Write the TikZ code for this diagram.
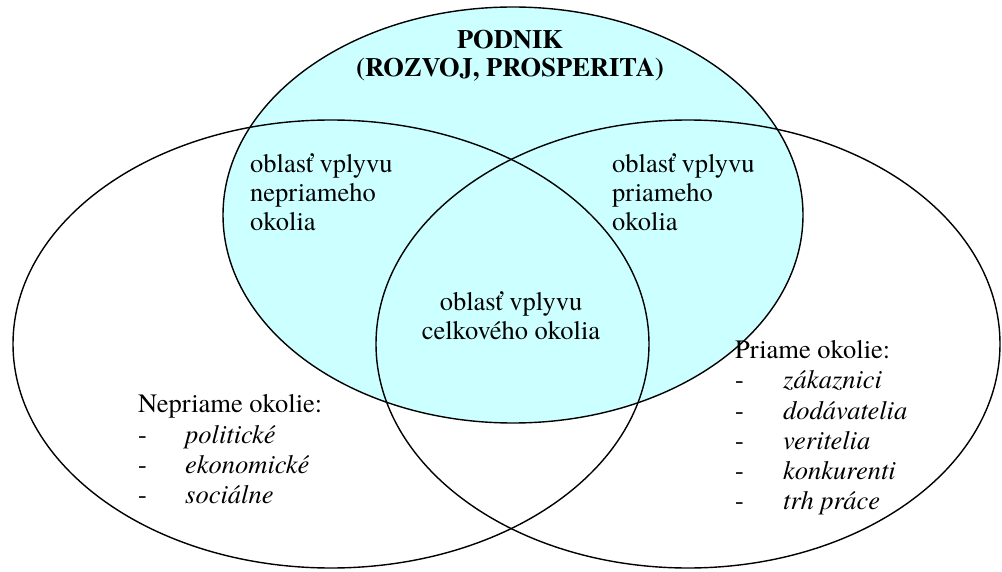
\documentclass[tikz,border=0pt]{standalone}
\usepackage{fontspec}
\setmainfont{texgyretermes}[Extension=.otf, UprightFont=*-regular, BoldFont=*-bold, ItalicFont=*-italic, BoldItalicFont=*-bolditalic]
\definecolor{lightcyan}{RGB}{204,255,255}
\begin{document}
\begin{tikzpicture}[x=1pt,y=-1pt,
  every node/.style={font=\fontsize{26.5}{30}\selectfont, inner sep=0pt},
  ring/.style={draw=black, line width=1.4pt},
  title/.style={anchor=base, font=\fontsize{26.5}{30}\selectfont\bfseries},
  lbl/.style={anchor=base west},
  ctr/.style={anchor=base},
  item/.style={anchor=base west, font=\fontsize{26.5}{30}\selectfont\itshape},
  dashmark/.style={anchor=base west}]
\useasboundingbox (0,0) rectangle (1002,572);
\fill[white] (0,0) rectangle (1002,572);
% ellipses
\filldraw[ring, fill=lightcyan] (513,215) ellipse [x radius=290, y radius=208];
\draw[ring] (331,344) ellipse [x radius=318, y radius=224];
\draw[ring] (688,344) ellipse [x radius=312, y radius=224];
% title
\node[title] (t1) at (510,49) {PODNIK};
\node[title] (t2) at (510,77) {(ROZVOJ, PROSPERITA)};
% left overlap
\node[lbl] (a1) at (250,173) {oblasť vplyvu};
\node[lbl] (a2) at (250,202) {nepriameho};
\node[lbl] (a3) at (250,231) {okolia};
% right overlap
\node[lbl] (b1) at (612,173) {oblasť vplyvu};
\node[lbl] (b2) at (612,202) {priameho};
\node[lbl] (b3) at (612,231) {okolia};
% center
\node[ctr] (c1) at (511,311) {oblasť vplyvu};
\node[ctr] (c2) at (511,339) {celkového okolia};
% left list
\node[lbl] (n0) at (138,412) {Nepriame okolie:};
\node[dashmark] (nd1) at (138,443) {-};
\node[item] (n1) at (185,443) {politické};
\node[dashmark] (nd2) at (138,473) {-};
\node[item] (n2) at (185,473) {ekonomické};
\node[dashmark] (nd3) at (138,503) {-};
\node[item] (n3) at (185,503) {sociálne};
% right list
\node[lbl] (p0) at (735,358) {Priame okolie:};
\node[dashmark] (pd1) at (735,388) {-};
\node[item] (p1) at (783,388) {zákaznici};
\node[dashmark] (pd2) at (735,419) {-};
\node[item] (p2) at (783,419) {dodávatelia};
\node[dashmark] (pd3) at (735,449) {-};
\node[item] (p3) at (783,449) {veritelia};
\node[dashmark] (pd4) at (735,479) {-};
\node[item] (p4) at (783,479) {konkurenti};
\node[dashmark] (pd5) at (735,509) {-};
\node[item] (p5) at (783,509) {trh práce};
\end{tikzpicture}
\end{document}
